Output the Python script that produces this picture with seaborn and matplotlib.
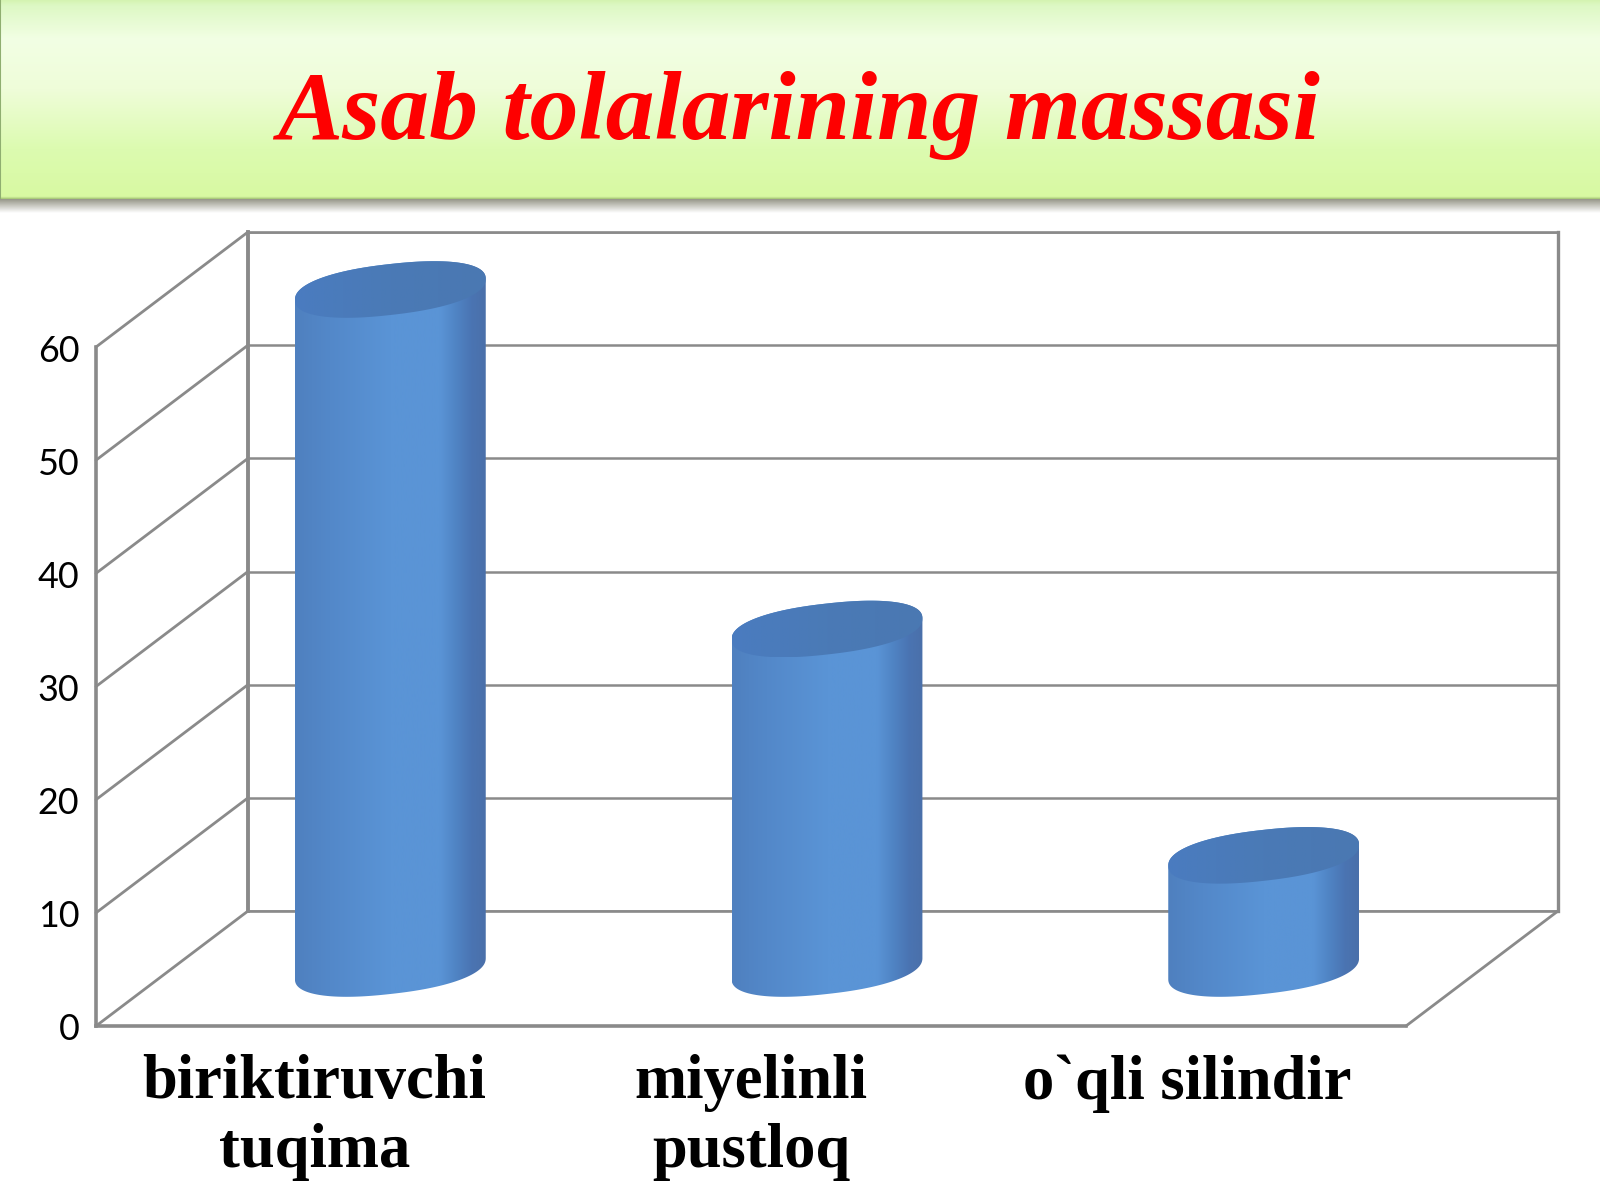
import matplotlib
matplotlib.use("Agg")
import matplotlib.pyplot as plt
import numpy as np
import pandas as pd
import seaborn as sns
from matplotlib.colors import LinearSegmentedColormap
from matplotlib.patches import Polygon
from matplotlib.transforms import ScaledTranslation

categories = ["biriktiruvchi\ntuqima", "miyelinli\npustloq", "o`qli silindir"]
values = [60, 30, 10]
y_ticks = [0, 10, 20, 30, 40, 50, 60]
title = "Asab tolalarining massasi"

GRID = "#8a8a8a"
W, H = 1600, 1200
# front plane of the fake 3d box, in pixels
LEFT, RIGHT, Y0, Y60 = 96, 1406, 1026, 347
DEPTH_X, DEPTH_Y = 152, 115

sns.set_theme(style="white")
plt.rcParams["font.family"] = ["Liberation Serif", "DejaVu Sans"]

fig = plt.figure(figsize=(16, 12), dpi=100, facecolor="white")


def plane(dx, dy):
    return fig.add_axes([(LEFT + dx) / W, (H - Y0 + dy) / H,
                         (RIGHT - LEFT) / W, (Y0 - Y60) / H])


def rounded(t):
    # slightly squarer than a true ellipse, like the cylinder ends in the picture
    c, s = np.cos(t), np.sin(t)
    return np.sign(c) * np.abs(c) ** 0.88, np.sign(s) * np.abs(s) ** 0.88


px_x = (RIGHT - LEFT) / 3
px_y = (Y0 - Y60) / 60

# back wall
ax_back = plane(DEPTH_X, DEPTH_Y)
ax_back.set_xlim(0, 1)
ax_back.set_ylim(0, 60)
ax_back.set_yticks(y_ticks)
ax_back.set_xticks([])
ax_back.tick_params(left=False, labelleft=False)
ax_back.grid(axis="y", color=GRID, lw=1.8)
ax_back.set_axisbelow(True)
for s in ax_back.spines.values():
    s.set_color(GRID)
    s.set_linewidth(1.9)
ax_back.spines["left"].set_linewidth(2.8)
ax_back.spines["right"].set_linewidth(2.4)

# front plane: axis labels, left wall and floor edges
ax = plane(0, 0)
ax.patch.set_alpha(0)
ax.set_xlim(-0.5, 2.5)
ax.set_ylim(0, 60)
ax.set_xticks(range(len(categories)))
ax.set_xticklabels(categories, fontsize=45, fontweight="bold", color="black",
                   linespacing=1.24)
ax.set_yticks(y_ticks)
ax.set_yticklabels([str(t) for t in y_ticks], fontsize=25.8, color="black",
                   family="Lato")
ax.tick_params(axis="y", length=0, pad=12)
ax.tick_params(axis="x", length=0, pad=20.5)
nudge = ScaledTranslation(0, -1 / 100, fig.dpi_scale_trans)
for lab in ax.get_yticklabels():
    lab.set_transform(lab.get_transform() + nudge)
for side in ["top", "right"]:
    ax.spines[side].set_visible(False)
for side in ["left", "bottom"]:
    ax.spines[side].set_color(GRID)
    ax.spines[side].set_linewidth(2.6)

dx_data = DEPTH_X / px_x
dy_data = DEPTH_Y / px_y
for t in y_ticks:
    ax.plot([-0.5, -0.5 + dx_data], [t, t + dy_data], color=GRID, lw=2.0,
            clip_on=False)
ax.plot([2.5, 2.5 + dx_data], [0, dy_data], color=GRID, lw=2.0, clip_on=False)

# cylinders sit half way into the box
ax_mid = plane(DEPTH_X / 2, DEPTH_Y / 2)
ax_mid.patch.set_alpha(0)
df = pd.DataFrame({"category": categories, "value": values})
sns.barplot(data=df, x="category", y="value", width=0.437, color="#5a94d6",
            ax=ax_mid)
ax_mid.set_xlim(-0.5, 2.5)
ax_mid.set_ylim(0, 60)
ax_mid.axis("off")

body_cmap = LinearSegmentedColormap.from_list("body", [
    (0.0, "#4f80bf"), (0.18, "#5388c9"), (0.5, "#5a94d6"), (0.76, "#5a94d6"),
    (0.84, "#5085c5"), (0.93, "#4a74b2"), (1.0, "#4a70aa")])
top_cmap = LinearSegmentedColormap.from_list("top", ["#4a7cc0", "#4a7ab6", "#4a78b2"])

end_b = 25.5 / px_y
end_s = 10.5 / px_y
grad = np.linspace(0, 1, 256).reshape(1, -1)

for bar in list(ax_mid.patches):
    x0, w, v = bar.get_x(), bar.get_width(), bar.get_height()
    bar.set_visible(False)
    cx, a = x0 + w / 2, w / 2

    cl, sl = rounded(np.linspace(0, -np.pi, 120))
    cu, su = rounded(np.linspace(np.pi, 0, 120))
    cf, sf = rounded(np.linspace(0, 2 * np.pi, 240))
    body = np.vstack([
        np.c_[cx + a * cl, end_b * sl + end_s * cl],
        np.c_[cx + a * cu, v + end_b * su + end_s * cu],
    ])
    cap = np.c_[cx + a * cf, v + end_b * sf + end_s * cf]

    for pts, cmap, z in [(body, body_cmap, 3), (cap, top_cmap, 4)]:
        poly = Polygon(pts, closed=True, transform=ax_mid.transData,
                       facecolor="none", edgecolor="none")
        ax_mid.add_patch(poly)
        poly.set_clip_on(False)
        im = ax_mid.imshow(grad, cmap=cmap, aspect="auto", zorder=z,
                           extent=[x0, x0 + w, pts[:, 1].min(), pts[:, 1].max()])
        im.set_clip_box(fig.bbox)
        im.set_clip_path(poly)

ax_mid.set_xlim(-0.5, 2.5)
ax_mid.set_ylim(0, 60)

# title banner
shadow = fig.add_axes([0, (H - 213) / H, 1, 15 / H])
shadow.imshow(np.linspace(0, 1, 64).reshape(-1, 1), aspect="auto", vmin=0, vmax=1,
              cmap=LinearSegmentedColormap.from_list("sh", ["#8f8f80", "#ffffff"]))
shadow.axis("off")

banner = fig.add_axes([0, (H - 199) / H, 1, 199 / H])
banner_cmap = LinearSegmentedColormap.from_list("banner", [
    (0.0, "#d3f3ae"), (0.03, "#ddf8c4"), (0.2, "#f2ffe4"), (0.45, "#effdd9"),
    (0.75, "#dcfbb0"), (0.99, "#d8f9a2"), (1.0, "#a8c878")])
banner.imshow(np.linspace(0, 1, 256).reshape(-1, 1), aspect="auto", cmap=banner_cmap,
              extent=[0, 1, 0, 1])
banner.axvline(0, color="#8fae70", lw=1.5)
banner.set_xlim(0, 1)
banner.set_ylim(0, 1)
banner.axis("off")
banner.text(0.499, 0.30, title, fontsize=70.4, fontweight="bold", fontstyle="italic",
            color="#fe0000", ha="center", va="baseline")

fig.savefig("out.png", dpi=100)
plt.close(fig)
